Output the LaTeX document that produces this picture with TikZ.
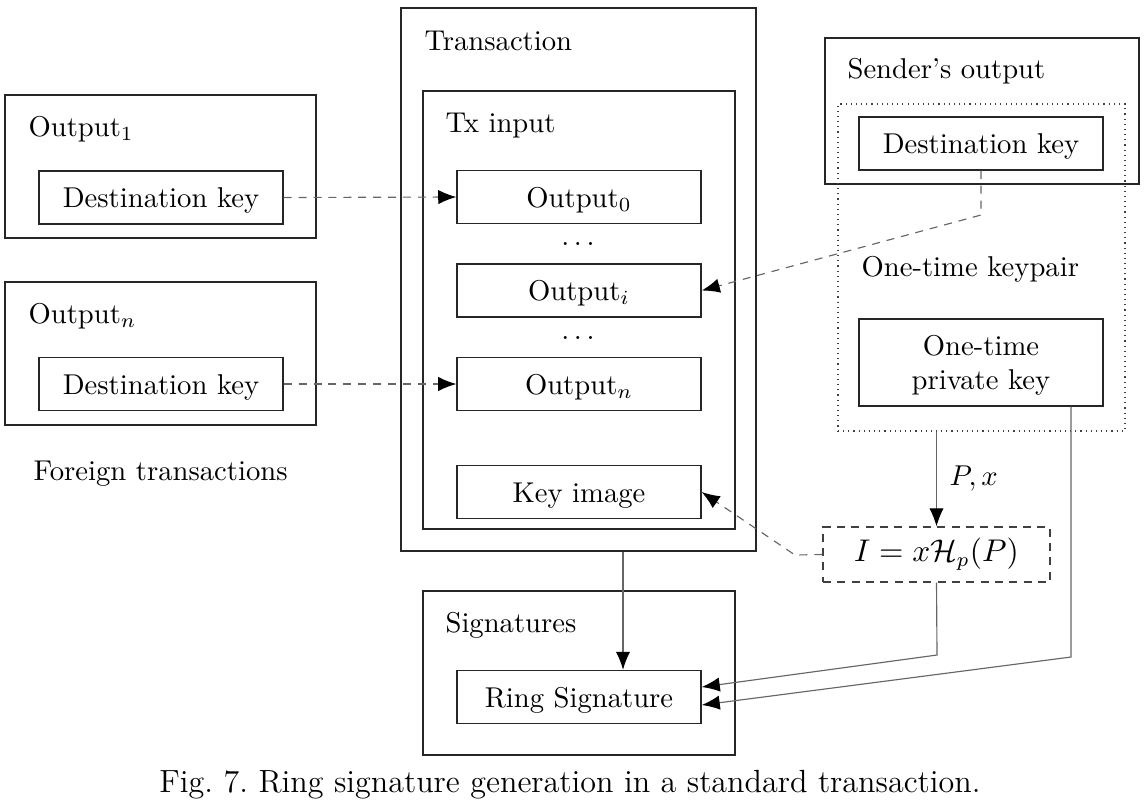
\documentclass[tikz,border=0pt]{standalone}
\usetikzlibrary{arrows.meta,calc}
\def\pu{0.349pt}
\begin{document}
\begin{tikzpicture}[x=0.349pt,y=-0.349pt,
  every node/.style={font=\fontsize{10}{12}\selectfont},
  frame/.style={draw=black!85,line width=0.5pt,inner sep=0pt},
  inbox/.style={frame,minimum width=244*\pu,minimum height=53*\pu,text height=7pt,text depth=0pt},
  lbl/.style={anchor=west,inner sep=0pt},
  conn/.style={draw=black!60,line width=0.4pt,-{Latex[length=6.3pt,width=5pt,color=black]}},
  dconn/.style={conn,dash pattern=on 2.8pt off 2.4pt},
]
\useasboundingbox (0,0) rectangle (1144,804);
% containers
\node[frame,minimum width=311*\pu,minimum height=143*\pu] (out1) at (160.5,166.5) {};
\node[frame,minimum width=311*\pu,minimum height=143*\pu] (outn) at (160.5,353.5) {};
\node[frame,minimum width=355*\pu,minimum height=543*\pu] (tx) at (578.5,279.5) {};
\node[frame,minimum width=312*\pu,minimum height=438*\pu] (txin) at (579,310) {};
\node[frame,minimum width=312*\pu,minimum height=164*\pu] (sig) at (579,673) {};
\node[frame,minimum width=314*\pu,minimum height=146*\pu] (sender) at (982,111) {};
\node[draw=black!75,line width=0.4pt,dash pattern=on 0.4pt off 1.4pt,inner sep=0pt,minimum width=287*\pu,minimum height=327*\pu] (kp) at (981.5,267.5) {};
% labels
\node[lbl] (l1) at (28,129) {Output$_1$};
\node[lbl] (ln) at (28,316) {Output$_n$};
\node[lbl] (ltx) at (424,41) {Transaction};
\node[lbl] (ltxin) at (445,126) {Tx input};
\node[lbl] (lsig) at (445,625) {Signatures};
\node[lbl] (lsend) at (847,71) {Sender's output};
\node[lbl] (lkp) at (861,269) {One-time keypair};
\node[lbl] (lfor) at (33,474) {Foreign transactions};
\node (dots1) at (578,244) {$\dots$};
\node (dots2) at (578,338) {$\dots$};
% inner boxes
\node[inbox] (dk1) at (161,197.5) {Destination key};
\node[inbox] (dkn) at (161,384) {Destination key};
\node[inbox] (o0) at (579,197) {Output$_0$};
\node[inbox] (oi) at (579,290.5) {Output$_i$};
\node[inbox] (on) at (579,384) {Output$_n$};
\node[inbox] (ki) at (579,492) {Key image};
\node[inbox] (ring) at (579,697) {Ring Signature};
\node[inbox] (sdk) at (981,143.5) {Destination key};
\node[frame,minimum width=244*\pu,minimum height=87*\pu,align=center,text depth=0pt] (priv) at (981,362.5) {One-time\\private key};
\node[draw=black!75,line width=0.45pt,dash pattern=on 2.8pt off 2.2pt,inner sep=0pt,minimum width=227*\pu,minimum height=55*\pu,font=\fontsize{10.7}{13}\selectfont] (img) at (936.5,554.5) {$I = x\mathcal{H}_p(P)$};
% coordinates
\coordinate (c1) at (981,215);
\coordinate (c2) at (795,555);
\coordinate (c3) at (937,655);
\coordinate (c4) at (1071,657);
\coordinate (t1) at (623,600);
\coordinate (r1) at ($(ring.east)+(0,-10)$);
\coordinate (r2) at ($(ring.east)+(0,8)$);
% connectors
\draw[dconn] (dk1.east) -- (o0.west);
\draw[dconn] (dkn.east) -- (on.west);
\draw[dconn] (sdk.south) -- (c1) -- (oi.east);
\draw[dconn] (img.west) -- (c2) -- (ki.east);
\draw[conn] (kp.south -| img.north) -- node[right=1pt,pos=0.5,font=\fontsize{10.4}{12}\selectfont] (px) {$P,x$} (img.north);
\draw[conn] (tx.south -| t1) -- (ring.north -| t1);
\draw[conn] (img.south) -- (c3) -- (r1);
\draw[conn] (priv.south -| c4) -- (c4) -- (r2);
% caption
\node[font=\fontsize{11.2}{13}\selectfont] (cap) at (570,785) {Fig.~7.~Ring signature generation in a standard transaction.};
\end{tikzpicture}
\end{document}
